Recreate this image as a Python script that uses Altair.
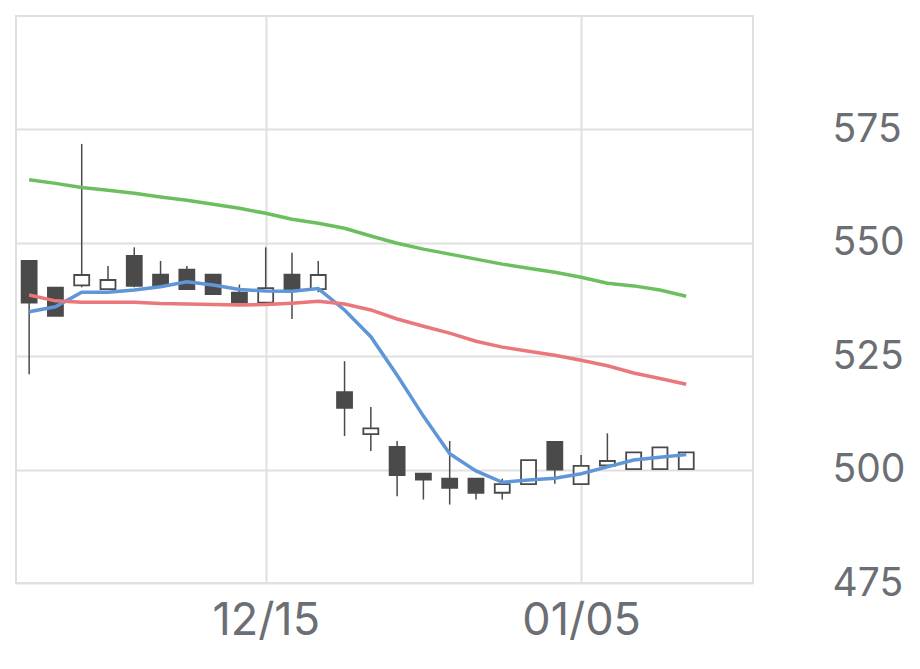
import altair as alt
import pandas as pd

# candle index (trading days) and OHLC values
idx = list(range(26))
opens = [546.0, 540.1, 540.6, 539.8, 547.1, 543.0, 544.1, 543.0, 539.0, 536.8,
         543.0, 539.8, 517.1, 507.8, 505.0, 499.1, 498.0, 498.0, 494.9, 496.8,
         506.1, 496.8, 500.9, 500.1, 500.1, 500.1]
highs = [546.0, 540.1, 571.8, 544.9, 549.0, 546.0, 544.9, 543.0, 540.8, 549.0,
         547.8, 546.0, 523.9, 513.8, 506.3, 499.1, 506.3, 498.0, 498.0, 502.1,
         506.1, 503.2, 508.0, 503.8, 504.9, 503.8]
lows = [521.0, 533.9, 540.2, 539.8, 540.2, 540.5, 539.8, 538.7, 536.8, 536.8,
        533.2, 539.1, 507.4, 504.1, 494.1, 493.4, 492.3, 493.4, 493.4, 496.8,
        496.9, 496.8, 500.9, 500.1, 500.1, 500.1]
closes = [536.8, 533.9, 542.9, 541.8, 540.5, 540.5, 539.8, 538.7, 536.8, 540.0,
          539.8, 542.9, 513.6, 509.1, 498.8, 497.8, 496.0, 494.9, 496.8, 502.1,
          500.0, 500.8, 501.9, 503.8, 504.9, 503.8]

# moving averages
ma_short = [534.8, 535.9, 539.1, 539.1, 539.6, 540.3, 541.4, 540.7, 539.7, 539.4,
            539.3, 539.9, 535.2, 529.3, 520.8, 511.8, 503.5, 499.7, 497.2, 497.7,
            498.1, 499.1, 500.6, 502.1, 502.7, 503.3]
ma_mid = [538.5, 537.2, 536.9, 536.9, 536.9, 536.6, 536.5, 536.4, 536.3, 536.4,
          536.7, 537.1, 536.5, 535.2, 533.2, 531.6, 530.1, 528.3, 527.0, 526.1,
          525.2, 524.1, 522.9, 521.3, 520.1, 518.8]
ma_long = [563.9, 563.1, 562.2, 561.6, 560.9, 560.1, 559.4, 558.5, 557.6, 556.5,
           555.2, 554.3, 553.2, 551.5, 549.9, 548.6, 547.5, 546.4, 545.3, 544.4,
           543.5, 542.4, 541.1, 540.5, 539.6, 538.2]

tick_pos = [9, 21]
tick_labels = ["12/15", "01/05"]
y_ticks = [475, 500, 525, 550, 575]

ma_names = ["short", "mid", "long"]
ma_colors = ["#5f96d8", "#ea777b", "#6cbf5f"]

candles = pd.DataFrame({"i": idx, "open": opens, "high": highs,
                        "low": lows, "close": closes})
candles["up"] = candles["close"] >= candles["open"]

ma_rows = []
for name, series in zip(ma_names, [ma_short, ma_mid, ma_long]):
    for i, v in zip(idx, series):
        ma_rows.append({"i": i, "v": v, "ma": name})
ma_df = pd.DataFrame(ma_rows)

label_expr = " : ".join(
    [f"datum.value == {p} ? '{l}'" for p, l in zip(tick_pos, tick_labels)]
) + " : ''"

x_scale = alt.Scale(domain=[-0.5, 27.54], nice=False, zero=False, padding=0)
y_scale = alt.Scale(domain=[475, 600], nice=False, zero=False)

x_axis = alt.Axis(values=tick_pos, labelExpr=label_expr, title=None,
                  domain=False, ticks=False, grid=True, gridColor="#e0e0e0",
                  gridWidth=2, labelFont="Inter", labelFontSize=45,
                  labelColor="#6b6e73", labelPadding=15)
y_axis = alt.Axis(values=y_ticks, orient="right", title=None, domain=False,
                  ticks=False, grid=True, gridColor="#e0e0e0", gridWidth=2,
                  labelFont="Inter", labelFontSize=39, labelColor="#6b6e73",
                  labelAlign="left", labelPadding=79)

base = alt.Chart(candles)

wick = base.mark_rule(color="#4a4a4a", strokeWidth=1.5).encode(
    x=alt.X("i:Q", scale=x_scale, axis=x_axis),
    y=alt.Y("low:Q", scale=y_scale, axis=y_axis),
    y2="high:Q",
)

body = base.mark_bar(size=15, stroke="#4a4a4a", strokeWidth=1.8).encode(
    x=alt.X("i:Q", scale=x_scale),
    y=alt.Y("open:Q", scale=y_scale),
    y2="close:Q",
    fill=alt.condition("datum.up", alt.value("#ffffff"), alt.value("#4a4a4a")),
)

lines = alt.Chart(ma_df).mark_line(strokeWidth=3.5).encode(
    x=alt.X("i:Q", scale=x_scale),
    y=alt.Y("v:Q", scale=y_scale),
    color=alt.Color("ma:N", scale=alt.Scale(domain=ma_names, range=ma_colors),
                    legend=None),
    detail="ma:N",
)

chart = alt.layer(wick, body, lines).properties(
    width=737, height=567,
    padding={"left": 8, "top": 8, "right": 5, "bottom": 5},
).configure_view(stroke="#e0e0e0", strokeWidth=2)

chart.save("out.html", embed_options={"renderer": "svg", "actions": False})
